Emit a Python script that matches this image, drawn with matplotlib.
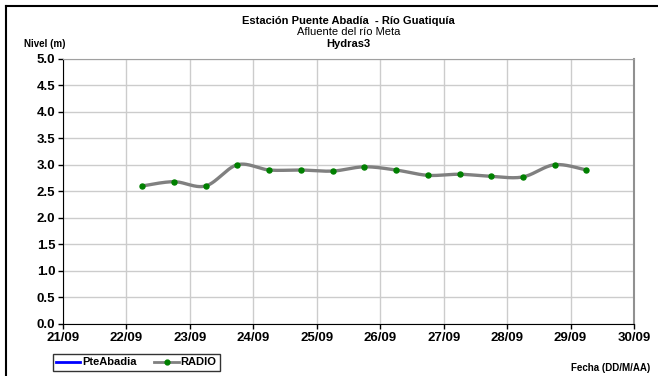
import numpy as np
import matplotlib
matplotlib.use('Agg')
import matplotlib.pyplot as plt
from matplotlib.lines import Line2D

plt.rcParams['font.family'] = ['Liberation Sans', 'DejaVu Sans']

# dia del mes (septiembre), lecturas cada 12 h
dias = [22.25, 22.75, 23.25, 23.75, 24.25, 24.75, 25.25, 25.75,
        26.25, 26.75, 27.25, 27.75, 28.25, 28.75, 29.25]
nivel_radio = [2.60, 2.68, 2.60, 3.00, 2.90, 2.90, 2.88, 2.96,
               2.90, 2.80, 2.82, 2.78, 2.77, 3.00, 2.90]
nivel_pte = []  # sin datos

x_ticks = list(range(21, 31))
x_labels = [f'{d}/09' for d in x_ticks]
y_ticks = [0.0, 0.5, 1.0, 1.5, 2.0, 2.5, 3.0, 3.5, 4.0, 4.5, 5.0]


def suavizar(x, y, n=30):
    # curva tipo "linea suavizada" de Excel (bezier con tangentes catmull-rom)
    x = np.asarray(x, float)
    y = np.asarray(y, float)
    px = np.concatenate([[x[0]], x, [x[-1]]])
    py = np.concatenate([[y[0]], y, [y[-1]]])
    t = np.linspace(0, 1, n)
    xs, ys = [], []
    for i in range(1, len(px) - 2):
        p0 = np.array([px[i], py[i]])
        p3 = np.array([px[i + 1], py[i + 1]])
        c1 = p0 + (np.array([px[i + 1], py[i + 1]]) - np.array([px[i - 1], py[i - 1]])) / 6
        c2 = p3 - (np.array([px[i + 2], py[i + 2]]) - np.array([px[i], py[i]])) / 6
        pts = ((1 - t) ** 3)[:, None] * p0 + (3 * (1 - t) ** 2 * t)[:, None] * c1 \
            + (3 * (1 - t) * t ** 2)[:, None] * c2 + (t ** 3)[:, None] * p3
        xs.extend(pts[:, 0])
        ys.extend(pts[:, 1])
    return xs, ys


fig = plt.figure(figsize=(6.58, 3.76), dpi=100)
ax = fig.add_axes([0.0957, 0.1383, 0.8678, 0.7061])

ax.plot(nivel_pte, nivel_pte, color='#0000ff', lw=2)
sx, sy = suavizar(dias, nivel_radio)
ax.plot(sx, sy, color='#808080', lw=2.4, solid_capstyle='round')
ax.plot(dias, nivel_radio, ls='none', marker='o', ms=3.6, color='#008000')

ax.set_xlim(21, 30)
ax.set_ylim(0, 5)
ax.set_xticks(x_ticks)
ax.set_xticklabels(x_labels)
ax.set_yticks(y_ticks)
ax.set_yticklabels([f'{v:.1f}' for v in y_ticks])
ax.grid(True, color='#cccccc', lw=1)
ax.set_axisbelow(True)
ax.tick_params(direction='out', length=3.5, width=1, colors='black', pad=2)
for lab in ax.get_xticklabels() + ax.get_yticklabels():
    lab.set_fontweight('bold')
    lab.set_fontsize(9.5)
ax.spines['left'].set_color('black')
ax.spines['bottom'].set_color('black')
ax.spines['top'].set_color('#a0a0a0')
ax.spines['right'].set_color('#909090')
ax.spines['right'].set_linewidth(1.5)

fig.text(0.53, 0.945, 'Estación Puente Abadía  - Río Guatiquía', ha='center', va='center',
         fontsize=8, fontweight='bold')
fig.text(0.53, 0.915, 'Afluente del río Meta', ha='center', va='center', fontsize=8)
fig.text(0.53, 0.884, 'Hydras3', ha='center', va='center', fontsize=8, fontweight='bold')
fig.text(0.068, 0.884, 'Nivel (m)', ha='center', va='center', fontsize=7, fontweight='bold')
fig.text(0.928, 0.021, 'Fecha (DD/M/AA)', ha='center', va='center', fontsize=7, fontweight='bold')

# marco exterior (solo izquierda y arriba visibles)
fig.add_artist(Line2D([0.0095, 0.0095], [0, 0.984], transform=fig.transFigure, color='black', lw=1.5))
fig.add_artist(Line2D([0.0095, 1], [0.984, 0.984], transform=fig.transFigure, color='black', lw=1.5))

handles = [Line2D([], [], color='#0000ff', lw=2),
           Line2D([], [], color='#808080', lw=2, marker='o', ms=3.5, mfc='#008000', mec='#008000')]
leg = fig.legend(handles, ['PteAbadia', 'RADIO'], loc='center', bbox_to_anchor=(0.207, 0.036),
                 ncol=2, frameon=True, fancybox=False, handlelength=2.2, handletextpad=0.15,
                 columnspacing=1.6, borderpad=0.3, borderaxespad=0,
                 prop={'weight': 'bold', 'size': 8})
leg.get_frame().set_edgecolor('black')
leg.get_frame().set_linewidth(1)

fig.savefig('out.png', dpi=100)
